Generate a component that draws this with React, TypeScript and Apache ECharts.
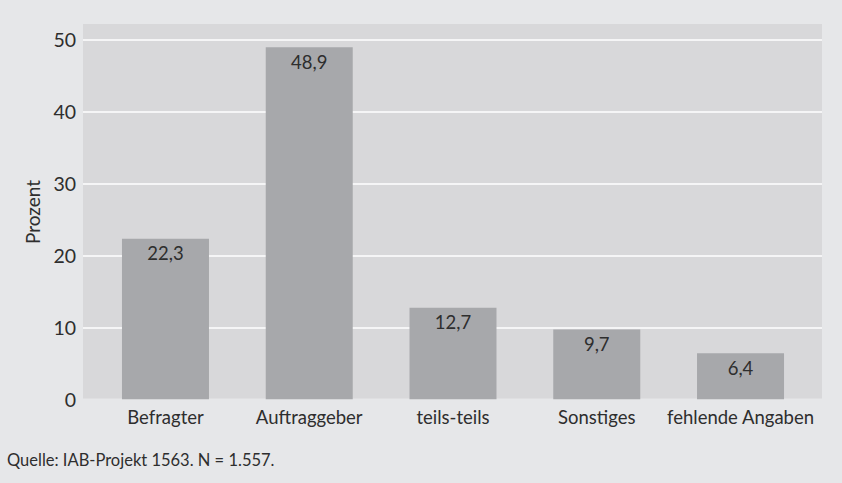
import React, { useEffect, useRef } from "react";
import * as echarts from "echarts";

const categories = ["Befragter", "Auftraggeber", "teils-teils", "Sonstiges", "fehlende Angaben"];
const values = [22.3, 48.9, 12.7, 9.7, 6.4];
const yTicks = [0, 10, 20, 30, 40, 50];
const sourceText = "Quelle: IAB-Projekt 1563. N = 1.557.";
const yName = "Prozent";

const FONT = "Lato, 'Noto Sans', sans-serif";
const TEXT = "#2e2e2e";

export default function App() {
  const ref = useRef<HTMLDivElement>(null);
  useEffect(() => {
    if (!ref.current) return;
    const chart = echarts.init(ref.current, undefined, { renderer: "svg" });
    const yMax = yTicks[yTicks.length - 1];
    chart.setOption({
      animation: false,
      backgroundColor: "#e6e7e9",
      textStyle: { fontFamily: FONT },
      graphic: [
        {
          type: "rect",
          z: -10,
          silent: true,
          shape: { x: 83, y: 24, width: 739, height: 374.5 },
          style: { fill: "#d8d8da" },
        },
        {
          type: "text",
          x: 7,
          y: 460,
          style: { text: sourceText, fill: TEXT, font: `16.5px ${FONT}`, textVerticalAlign: "middle" },
        },
        {
          type: "text",
          x: 32.5,
          y: 212,
          rotation: Math.PI / 2,
          style: {
            text: yName,
            fill: TEXT,
            font: `19px ${FONT}`,
            textAlign: "center",
            textVerticalAlign: "middle",
          },
        },
      ],
      grid: [
        { left: 93.6, right: 29.6, top: 39.3, bottom: 83.7 },
        { left: 83, right: 20, top: 39.3, bottom: 83.7 },
      ],
      xAxis: [
        {
          type: "category",
          gridIndex: 0,
          data: categories,
          axisLine: { show: false },
          axisTick: { show: false },
          axisLabel: { color: TEXT, fontSize: 18.5, margin: 8, interval: 0, fontFamily: FONT },
        },
        { type: "category", gridIndex: 1, data: categories, show: false },
      ],
      yAxis: [
        { type: "value", gridIndex: 0, min: 0, max: yMax, interval: 10, show: false },
        {
          type: "value",
          gridIndex: 1,
          min: 0,
          max: yMax,
          interval: 10,
          axisLine: { show: false },
          axisTick: { show: false },
          axisLabel: { color: TEXT, fontSize: 19.5, margin: 7, fontFamily: FONT },
          splitLine: {
            show: true,
            lineStyle: { color: ["rgba(0,0,0,0)", "#ffffff", "#ffffff", "#ffffff", "#ffffff", "#ffffff"], width: 1.5 },
          },
        },
      ],
      series: [
        {
          type: "bar",
          xAxisIndex: 0,
          yAxisIndex: 0,
          data: values,
          barWidth: 87,
          itemStyle: { color: "#a7a8ab" },
          label: {
            show: true,
            position: "insideTop",
            distance: 5,
            color: TEXT,
            fontSize: 18.5,
            fontFamily: FONT,
            formatter: (p: any) => Number(p.value).toFixed(1).replace(".", ","),
          },
        },
      ],
    });
    return () => chart.dispose();
  }, []);
  return (
    <div
      ref={ref}
      style={{ position: "fixed", left: 0, top: 0, width: 842, height: 483 }}
    />
  );
}
